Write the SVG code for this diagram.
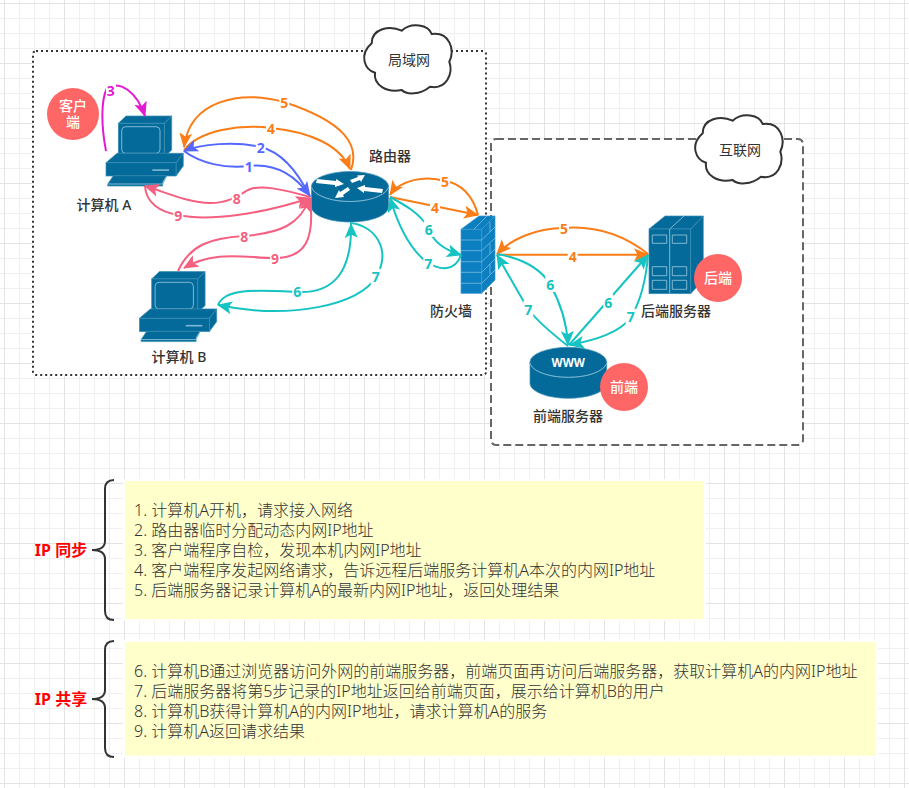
<svg xmlns="http://www.w3.org/2000/svg" xmlns:xlink="http://www.w3.org/1999/xlink" width="909" height="788" viewBox="0 0 909 788">
<style>
text{font-family:"Noto Sans","Noto Sans CJK SC",sans-serif}
.name{font-size:14px;font-weight:500;fill:#333;text-anchor:middle;dominant-baseline:central}
.cl{font-size:14px;font-weight:400;fill:#333;text-anchor:middle;dominant-baseline:central}
.badge{font-size:14px;font-weight:500;fill:#fff;text-anchor:middle}
.note{font-size:16px;fill:#333;font-weight:300}
.side{font-size:16px;font-weight:700;fill:#f00;text-anchor:middle;dominant-baseline:central}
.c{fill:none;stroke-width:2}
.num{font-size:14px;font-weight:700;text-anchor:middle;dominant-baseline:central}
.bg{fill:#fff}
.o{stroke:#fa7d17}.b{stroke:#5468ff}.p{stroke:#f55f80}.t{stroke:#15c3c3}.m{stroke:#e31ad3}
.fo{fill:#fa7d17}.fb{fill:#5468ff}.fp{fill:#f55f80}.ft{fill:#15c3c3}.fm{fill:#e31ad3}
.ico{fill:#046a9a;stroke:#3d8fb5;stroke-width:.7}
.lt{fill:none;stroke:#7fb8d2;stroke-width:1}
.fw{fill:#0b7fc0;stroke:#3d9ad0;stroke-width:.7}
.fwl{fill:none;stroke:#7cbbe0;stroke-width:.8}
.cloud{fill:#fff;stroke:#333;stroke-width:2}
.dot{fill:#ff6666}
</style>
<defs>
<pattern id="minor" width="15" height="15" patternUnits="userSpaceOnUse" patternTransform="translate(4 3)"><path d="M.5 0V15M0 .5H15" fill="none" stroke="#f0f0f0" stroke-width="1"/></pattern>
<pattern id="major" width="60" height="60" patternUnits="userSpaceOnUse" patternTransform="translate(4 3)"><path d="M.5 0V60M0 .5H60" fill="none" stroke="#e3e3e3" stroke-width="1"/></pattern>
<marker id="ao" markerUnits="userSpaceOnUse" markerWidth="16" markerHeight="14" refX="14" refY="6.500" orient="auto"><path d="M0 0L15 6.500L0 13L3.500 6.500Z" fill="#fa7d17"/></marker>
<marker id="ab" markerUnits="userSpaceOnUse" markerWidth="16" markerHeight="14" refX="14" refY="6.500" orient="auto"><path d="M0 0L15 6.500L0 13L3.500 6.500Z" fill="#5468ff"/></marker>
<marker id="ap" markerUnits="userSpaceOnUse" markerWidth="16" markerHeight="14" refX="14" refY="6.500" orient="auto"><path d="M0 0L15 6.500L0 13L3.500 6.500Z" fill="#f55f80"/></marker>
<marker id="at" markerUnits="userSpaceOnUse" markerWidth="16" markerHeight="14" refX="14" refY="6.500" orient="auto"><path d="M0 0L15 6.500L0 13L3.500 6.500Z" fill="#15c3c3"/></marker>
<marker id="am" markerUnits="userSpaceOnUse" markerWidth="16" markerHeight="14" refX="14" refY="6.500" orient="auto"><path d="M0 0L15 6.500L0 13L3.500 6.500Z" fill="#e31ad3"/></marker>
<g id="pc">
<path class="ico" d="M118.3 123.3L126 116H171.7L164.3 123.3ZM164.3 123.3L171.7 116V150L164.3 157Z"/>
<rect class="ico" x="118.3" y="123.3" width="46" height="34"/>
<rect class="lt" x="121.7" y="126.7" width="38.3" height="26.6" rx="4"/>
<path class="ico" d="M106 162.7L117 153.3H183.3L176 162.7ZM176 162.7L183.3 153.3V166L176 176Z"/>
<rect class="ico" x="106" y="162.7" width="70" height="13.3"/>
<rect x="152.3" y="169.3" width="16.7" height="1.6" fill="#7fb8d2"/>
<path class="ico" d="M107.7 184L113.3 175.7H166.7L162.7 182V186H107.7Z"/>
<path class="lt" d="M107.7 184H162.7L166.7 176"/>
</g>
</defs>
<rect width="909" height="788" fill="#fff"/>
<rect width="909" height="788" fill="url(#minor)"/>
<rect width="909" height="788" fill="url(#major)"/>

<g id="lan-box"><rect x="33" y="51" width="453" height="324" rx="3" fill="#fff" stroke="#333" stroke-width="2" stroke-dasharray="2 3"/></g>
<g id="internet-box"><rect x="491" y="139" width="312" height="306" rx="5" fill="#fff" stroke="#666" stroke-width="2" stroke-dasharray="8 4"/></g>

<g id="lan-cloud">
<path class="cloud" d="M371.7 43.3C371.7 28.3 390 25 401.7 30.7C411.7 21.7 428.3 25 431.7 34C450 31.7 455 50 449.3 61.7C453.3 73.3 446.7 90 430 86.7C420 95 406.7 95 401.7 90C386.7 93.3 373.3 85 375 72.7C365 70 358.3 55 371.7 43.3Z"/>
<text class="cl" x="409" y="59">局域网</text>
</g>
<g id="internet-cloud">
<path class="cloud" transform="translate(331 90)" d="M371.7 43.3C371.7 28.3 390 25 401.7 30.7C411.7 21.7 428.3 25 431.7 34C450 31.7 455 50 449.3 61.7C453.3 73.3 446.7 90 430 86.7C420 95 406.7 95 401.7 90C386.7 93.3 373.3 85 375 72.7C365 70 358.3 55 371.7 43.3Z"/>
<text class="cl" x="740" y="149">互联网</text>
</g>

<g id="computer-a"><use href="#pc"/><text class="name" x="104" y="204">计算机 A</text></g>
<g id="computer-b"><use href="#pc" transform="translate(33.4 155.6)"/><text class="name" x="179" y="356">计算机 B</text></g>
<g id="client-badge"><circle class="dot" cx="73" cy="114" r="26"/><text class="badge" y="111"><tspan x="73">客户</tspan><tspan x="73" dy="16">端</tspan></text></g>

<g id="router">
<path class="ico" d="M311.5 186.5V207C311.5 215 328 222 350 222S388.5 215 388.5 207V186.5Z"/>
<ellipse class="ico" cx="350" cy="186.5" rx="38.5" ry="15"/>
<path class="lt" d="M311.5 187C314 195 330 201.5 350 201.5S386 195 388.5 187"/>
<path fill="#fff" d="M317 179L336 181L336 179L344 184L335 187L335 185L316 183ZM357 188L365 185L365 187L383 189L382 193L364 191L364 193ZM365 175L357 175.5L358 177L350 180L352 183L360 180L361 182ZM335 198L344 197L343 195L350 190L348 187L340 192L339 190Z"/>
<text class="name" x="390" y="155">路由器</text>
</g>

<g id="firewall">
<path class="fw" d="M461 229.3L479 216H495L481.7 229.3ZM481.7 229.3L495 216V280L481.7 293.3Z"/>
<rect class="fw" x="461" y="229.3" width="20.7" height="64"/>
<path class="fwl" d="M461 240H481.7L495 227M461 250.7H481.7L495 238M461 261.7H481.7L495 249M461 272.3H481.7L495 259M461 283.3H481.7L495 270M487 216L474 229M490 222V232M490 244V254M490 264V274"/>
<text class="name" x="451" y="310">防火墙</text>
</g>

<g id="backend-server">
<path class="ico" d="M649 229L665 216H703.3L690.7 229ZM690.7 229L703.3 216V280L690.7 293.7Z"/>
<rect class="ico" x="649" y="229" width="41.7" height="64.7"/>
<path class="lt" d="M669.7 229V293.7M669.7 229L684 216"/>
<path class="lt" d="M652.3 235H666.7V243.3H652.3ZM672.3 235H686.7V243.3H672.3ZM652.3 266.7H666.7V275.7H652.3ZM672.3 266.7H686.7V275.7H672.3ZM652.3 280.3H666.7V289.3H652.3ZM672.3 280.3H686.7V289.3H672.3Z"/>
<circle class="dot" cx="718" cy="278" r="24"/>
<text class="badge" x="718" y="283">后端</text>
<text class="name" x="676" y="310">后端服务器</text>
</g>

<g id="frontend-server">
<path class="ico" d="M530 362.3V383.3C530 391.5 547 398.3 568.3 398.3S606.7 391.5 606.7 383.3V362.3Z"/>
<ellipse class="ico" cx="568.3" cy="362.3" rx="38.4" ry="15"/>
<path class="lt" d="M530 363C532 371 548 377.3 568.3 377.3S604 371 606.7 363"/>
<text x="568.3" y="362" fill="#fff" font-size="11.5" font-weight="700" text-anchor="middle" dominant-baseline="central">WWW</text>
<circle class="dot" cx="624" cy="387" r="24"/>
<text class="badge" x="624" y="392">前端</text>
<text class="name" x="568" y="415">前端服务器</text>
</g>

<g id="connectors">
<path class="c m" marker-end="url(#am)" d="M106 151C101 125 101 100 107 88C120 80 137 92 145 116"/>
<path class="c o" marker-end="url(#ao)" d="M351 170C360 145 345 122 284 102C240 90 190 100 184 147"/>
<path class="c o" marker-end="url(#ao)" d="M184 150C200 130 240 124 271 128C310 132 340 145 350 169"/>
<path class="c b" marker-end="url(#ab)" d="M310 197C297 170 280 152 261 147C235 141 200 144 184 151"/>
<path class="c b" marker-end="url(#ab)" d="M184 151C200 163 225 169 249 166C275 163 295 175 310 196"/>
<path class="c p" marker-end="url(#ap)" d="M310 197C285 190 260 184 248 190C238 196 228 203 210 203C190 203 170 194 145 186"/>
<path class="c p" marker-end="url(#ap)" d="M145 186C146 203 160 212 178 215C210 222 265 213 310 198"/>
<path class="c p" marker-end="url(#ap)" d="M178 271C190 245 210 238 244 236C280 233 300 225 310 198"/>
<path class="c p" marker-end="url(#ap)" d="M310 198C315 240 305 258 275 258C245 258 215 250 184 268"/>
<path class="c t" marker-end="url(#at)" d="M218 305C225 288 255 290 297 292C335 294 352 270 351 224"/>
<path class="c t" marker-end="url(#at)" d="M350 223C375 225 392 250 376 277C360 305 290 320 218 305"/>
<path class="c o" marker-end="url(#ao)" d="M478 215C473 195 460 183 445 181C425 175 400 180 390 195"/>
<path class="c o" marker-end="url(#ao)" d="M390 197L478 215"/>
<path class="c t" marker-end="url(#at)" d="M390 197C405 205 420 213 429 229C433 242 445 250 461 255"/>
<path class="c t" marker-end="url(#at)" d="M461 255C455 272 440 270 428 263C410 250 398 225 390 198"/>
<path class="c o" marker-end="url(#ao)" d="M648 254C620 232 590 226 564 228C535 228 510 240 497 254"/>
<path class="c o" marker-end="url(#ao)" d="M497 254.7H648"/>
<path class="c t" marker-end="url(#at)" d="M497 254C520 258 540 268 550 284C560 302 567 325 568 345"/>
<path class="c t" marker-end="url(#at)" d="M568 346C550 332 538 322 528 309L497 255"/>
<path class="c t" marker-end="url(#at)" d="M569 345L648 255"/>
<path class="c t" marker-end="url(#at)" d="M648 255C646 280 640 302 631 317C620 333 595 340 570 345"/>
<g id="connector-labels">
<rect class="bg" x="106" y="82" width="10" height="16"/><text class="num fm" x="110.7" y="90">3</text>
<rect class="bg" x="279.300" y="94.300" width="10" height="16"/><text class="num fo" x="284.300" y="102.300">5</text>
<rect class="bg" x="266" y="120.300" width="10" height="16"/><text class="num fo" x="271" y="128.300">4</text>
<rect class="bg" x="255.700" y="139.300" width="10" height="16"/><text class="num fb" x="260.700" y="147.300">2</text>
<rect class="bg" x="243.700" y="158" width="10" height="16"/><text class="num fb" x="248.700" y="166">1</text>
<rect class="bg" x="231.700" y="190" width="10" height="16"/><text class="num fp" x="236.700" y="198">8</text>
<rect class="bg" x="173.300" y="207" width="10" height="16"/><text class="num fp" x="178.300" y="215">9</text>
<rect class="bg" x="239.300" y="228" width="10" height="16"/><text class="num fp" x="244.300" y="236">8</text>
<rect class="bg" x="270" y="250.300" width="10" height="16"/><text class="num fp" x="275" y="258.300">9</text>
<rect class="bg" x="292.300" y="283.700" width="10" height="16"/><text class="num ft" x="297.300" y="291.700">6</text>
<rect class="bg" x="370.700" y="268.700" width="10" height="16"/><text class="num ft" x="375.700" y="276.700">7</text>
<rect class="bg" x="440" y="173" width="10" height="16"/><text class="num fo" x="445" y="181">5</text>
<rect class="bg" x="430" y="199.300" width="10" height="16"/><text class="num fo" x="435" y="207.300">4</text>
<rect class="bg" x="423.700" y="221" width="10" height="16"/><text class="num ft" x="428.700" y="229">6</text>
<rect class="bg" x="423.300" y="255.300" width="10" height="16"/><text class="num ft" x="428.300" y="263.300">7</text>
<rect class="bg" x="559" y="220.300" width="10" height="16"/><text class="num fo" x="564" y="228.300">5</text>
<rect class="bg" x="567.700" y="248" width="10" height="16"/><text class="num fo" x="572.700" y="256">4</text>
<rect class="bg" x="545.300" y="276" width="10" height="16"/><text class="num ft" x="550.300" y="284">6</text>
<rect class="bg" x="523.300" y="301" width="10" height="16"/><text class="num ft" x="528.300" y="309">7</text>
<rect class="bg" x="603.300" y="294.300" width="10" height="16"/><text class="num ft" x="608.300" y="302.300">6</text>
<rect class="bg" x="625.700" y="308.700" width="10" height="16"/><text class="num ft" x="630.700" y="316.700">7</text>
</g>
</g>

<g id="sync-brace">
<path fill="none" stroke="#333" stroke-width="2" d="M114 480C108 480 105 483 105 489V541Q105 550 92 550Q105 550 105 559V611C105 617 108 620 114 620"/>
<text class="side" x="61" y="550">IP 同步</text>
</g>
<g id="share-brace">
<path fill="none" stroke="#333" stroke-width="2" d="M114 641C108 641 105 644 105 650V690Q105 699 92 699Q105 699 105 708V748C105 754 108 757 114 757"/>
<text class="side" x="61" y="699">IP 共享</text>
</g>

<g id="sync-note">
<rect x="125" y="481" width="579" height="138" fill="#ffffcc"/>
<path d="M123 479H706V621H123Z M125 481V619H704V481Z" fill="#fff" fill-rule="evenodd"/>
<text class="note" x="134" y="515.500">1. 计算机A开机，请求接入网络</text>
<text class="note" x="134" y="535.500">2. 路由器临时分配动态内网IP地址</text>
<text class="note" x="134" y="555.500">3. 客户端程序自检，发现本机内网IP地址</text>
<text class="note" x="134" y="575.500">4. 客户端程序发起网络请求，告诉远程后端服务计算机A本次的内网IP地址</text>
<text class="note" x="134" y="595.500">5. 后端服务器记录计算机A的最新内网IP地址，返回处理结果</text>
</g>
<g id="share-note">
<rect x="125" y="641.700" width="751" height="114" fill="#ffffcc"/>
<path d="M123 639.700H878V757.700H123Z M125 641.700V755.700H876V641.700Z" fill="#fff" fill-rule="evenodd"/>
<text class="note" x="134" y="677">6. 计算机B通过浏览器访问外网的前端服务器，前端页面再访问后端服务器，获取计算机A的内网IP地址</text>
<text class="note" x="134" y="697">7. 后端服务器将第5步记录的IP地址返回给前端页面，展示给计算机B的用户</text>
<text class="note" x="134" y="717">8. 计算机B获得计算机A的内网IP地址，请求计算机A的服务</text>
<text class="note" x="134" y="737">9. 计算机A返回请求结果</text>
</g>
</svg>
